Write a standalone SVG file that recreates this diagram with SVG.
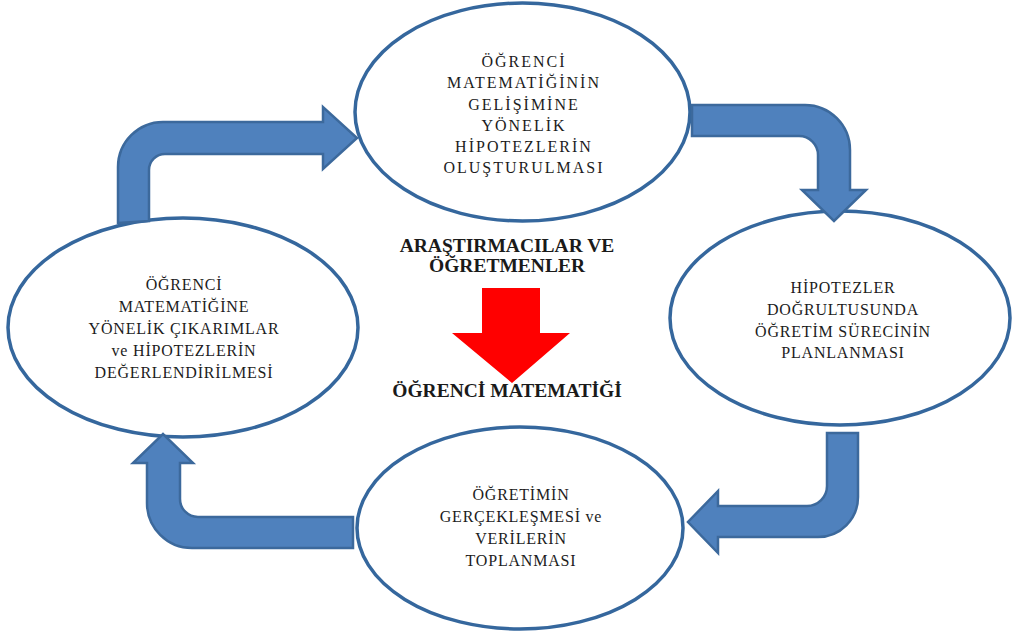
<svg xmlns="http://www.w3.org/2000/svg" width="1013" height="637" viewBox="0 0 1013 637">
<style>
.node ellipse{fill:#ffffff;stroke:#35679d;stroke-width:3.5}
.t{font-family:"Liberation Serif","Times New Roman",serif;font-size:16px;fill:#1c1c1c;text-anchor:middle;letter-spacing:0.8px}
.tt{letter-spacing:2px}
.b{font-family:"Liberation Serif","Times New Roman",serif;font-size:19.5px;font-weight:bold;fill:#1a1a1a;text-anchor:middle}
.arr{fill:#4f81bd;stroke:#3c699c;stroke-width:2.5;stroke-linejoin:miter}
</style>
<rect width="1013" height="637" fill="#ffffff"/>
<g id="node-top" class="node">
<ellipse cx="522.5" cy="112" rx="167.5" ry="109"/>
<text class="t tt" x="524" y="67">ÖĞRENCİ</text>
<text class="t tt" x="524" y="88">MATEMATİĞİNİN</text>
<text class="t tt" x="524" y="110">GELİŞİMİNE</text>
<text class="t tt" x="524" y="131">YÖNELİK</text>
<text class="t tt" x="524" y="152">HİPOTEZLERİN</text>
<text class="t tt" x="524" y="173">OLUŞTURULMASI</text>
</g>
<g id="node-right" class="node">
<ellipse cx="840" cy="318" rx="170" ry="107"/>
<text class="t" x="843" y="293">HİPOTEZLER</text>
<text class="t" x="843" y="315">DOĞRULTUSUNDA</text>
<text class="t" x="843" y="337">ÖĞRETİM SÜRECİNİN</text>
<text class="t" x="843" y="358">PLANLANMASI</text>
</g>
<g id="node-bottom" class="node">
<ellipse cx="520" cy="528" rx="163" ry="101"/>
<text class="t" x="521" y="500">ÖĞRETİMİN</text>
<text class="t" x="521" y="522">GERÇEKLEŞMESİ ve</text>
<text class="t" x="521" y="544">VERİLERİN</text>
<text class="t" x="521" y="566">TOPLANMASI</text>
</g>
<g id="node-left" class="node">
<ellipse cx="183" cy="327.5" rx="175" ry="109.5"/>
<text class="t" x="184" y="290">ÖĞRENCİ</text>
<text class="t" x="184" y="312">MATEMATİĞİNE</text>
<text class="t" x="184" y="334">YÖNELİK ÇIKARIMLAR</text>
<text class="t" x="184" y="356">ve HİPOTEZLERİN</text>
<text class="t" x="184" y="378">DEĞERLENDİRİLMESİ</text>
</g>
<g id="center">
<text class="b" x="507" y="252">ARAŞTIRMACILAR VE</text>
<text class="b" x="507" y="272">ÖĞRETMENLER</text>
<polygon points="482,288 540,288 540,333 570,333 512,383 452,333 482,333" fill="#ff0000"/>
<text class="b" x="507" y="397">ÖĞRENCİ MATEMATİĞİ</text>
</g>
<g id="connectors">
<path class="arr" d="M118,223 L118,167 A45,45 0 0 1 163,122 L323,122 L323,107 L357,138 L323,169 L323,154 L165,154 A16,16 0 0 0 149,170 L149,221 Z"/>
<path class="arr" d="M692,105 L805,105 A45,45 0 0 1 850,150 L850,190 L866,190 L834,221 L802,190 L818,190 L818,155 A19,19 0 0 0 799,136 L692,136 Z"/>
<path class="arr" d="M827,433 L858,433 L858,497 A40,40 0 0 1 818,537 L718,537 L718,553 L688,522 L718,491 L718,506 L807,506 A20,20 0 0 0 827,486 Z"/>
<path class="arr" d="M353,517 L198,517 A18,18 0 0 1 180,499 L180,463 L193,463 L163,434 L133,463 L147,463 L147,503 A45,45 0 0 0 192,548 L353,548 Z"/>
</g>
</svg>
